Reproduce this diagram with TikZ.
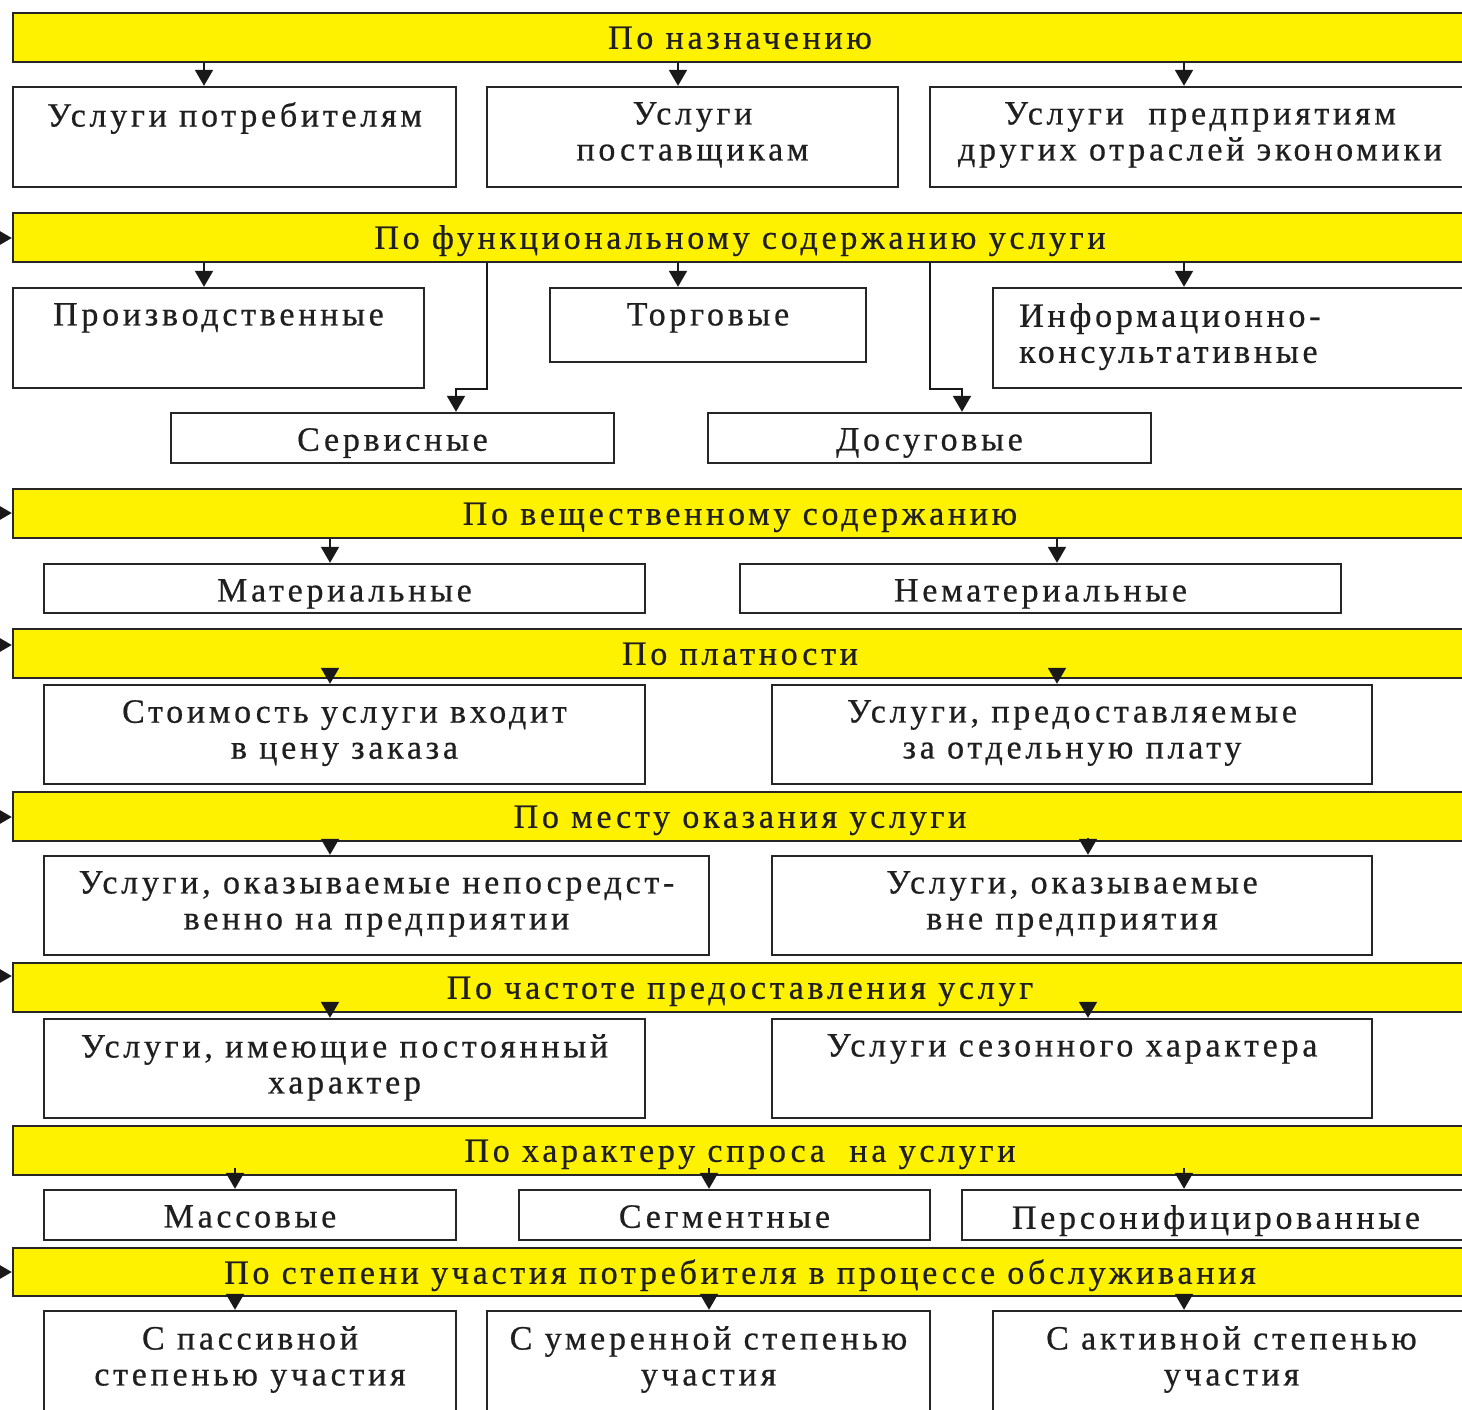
\documentclass[tikz,border=0pt]{standalone}
\usepackage{fontspec}
\setmainfont{Liberation Serif}[LetterSpace=11,FakeBold=0.6]
\usetikzlibrary{arrows.meta}
\newcommand\mkbox[6]{\node[#2, minimum width={(#5-#3)*0.5pt}, minimum height={(#6-#4)*0.5pt}] (#1) at ({(#3+#5)/2},{(#4+#6)/2}) {};}
\tikzset{
  bar/.style={draw=black!85, fill=yellow, line width=1.2pt, inner sep=0pt},
  box/.style={draw=black!85, fill=white, line width=1.2pt, inner sep=0pt},
  lbl/.style={font=\fontsize{17pt}{18pt}\selectfont, text=black!88, inner sep=0pt, align=center},
  bt/.style={lbl, anchor=base, yshift=-18.5pt},
  tt/.style={lbl, anchor=north, yshift=-8pt},
  ln/.style={line width=1pt, draw=black!90},
  arr/.style={ln, -{Triangle[length=8pt,width=9pt]}},
}
\begin{document}
\begin{tikzpicture}[x=0.5pt,y=-0.5pt]
\useasboundingbox (0,0) rectangle (1462,1409);
\fill[white] (0,0) rectangle (1462,1409);
\clip (0,0) rectangle (1462,1409);

% x-position helpers
\foreach \xx in {204,235,330,456,487,678,709,930,962,1057,1088,1184}{\coordinate (x\xx) at (\xx,0);}

% ---------- bars ----------
\mkbox{bar1}{bar}{13}{13}{1467}{62}
\mkbox{bar2}{bar}{13}{213}{1467}{262}
\mkbox{bar3}{bar}{13}{489}{1467}{538}
\mkbox{bar4}{bar}{13}{629}{1467}{678}
\mkbox{bar5}{bar}{13}{792}{1467}{841}
\mkbox{bar6}{bar}{13}{963}{1467}{1012}
\mkbox{bar7}{bar}{13}{1126}{1467}{1175}
\mkbox{bar8}{bar}{13}{1248}{1467}{1296}
\node[bt] (bar1t) at (bar1.north) {По назначению};
\node[bt] (bar2t) at (bar2.north) {По функциональному содержанию услуги};
\node[bt] (bar3t) at (bar3.north) {По вещественному содержанию};
\node[bt] (bar4t) at (bar4.north) {По платности};
\node[bt] (bar5t) at (bar5.north) {По месту оказания услуги};
\node[bt] (bar6t) at (bar6.north) {По частоте предоставления услуг};
\node[bt] (bar7t) at (bar7.north) {По характеру спроса \ на услуги};
\node[bt] (bar8t) at (bar8.north) {По степени участия потребителя в процессе обслуживания};

% ---------- boxes ----------
\mkbox{b11}{box}{13}{87}{456}{187}
\mkbox{b12}{box}{487}{87}{898}{187}
\mkbox{b13}{box}{930}{87}{1470}{187}
\node[tt] (b11t) at (b11.north) {Услуги потребителям};
\node[tt] (b12t) at (b12.north) {Услуги\\поставщикам};
\node[tt] (b13t) at (b13.north) {Услуги \ предприятиям\\других отраслей экономики};

\mkbox{b21}{box}{13}{288}{424}{388}
\mkbox{b22}{box}{550}{288}{866}{362}
\mkbox{b23}{box}{993}{288}{1470}{388}
\node[tt] (b21t) at (b21.north) {Производственные};
\node[tt] (b22t) at (b22.north) {Торговые};
\node[lbl, anchor=north west, align=left, xshift=13.5pt, yshift=-8pt] (b23t) at (b23.north west) {Информационно-\\консультативные};

\mkbox{b24}{box}{171}{413}{614}{463}
\mkbox{b25}{box}{708}{413}{1151}{463}
\node[tt] (b24t) at (b24.north) {Сервисные};
\node[tt] (b25t) at (b25.north) {Досуговые};

\mkbox{b31}{box}{44}{564}{645}{613}
\mkbox{b32}{box}{740}{564}{1341}{613}
\node[tt] (b31t) at (b31.north) {Материальные};
\node[tt] (b32t) at (b32.north) {Нематериальные};

\mkbox{b41}{box}{44}{685}{645}{784}
\mkbox{b42}{box}{772}{685}{1372}{784}
\node[tt] (b41t) at (b41.north) {Стоимость услуги входит\\в цену заказа};
\node[tt] (b42t) at (b42.north) {Услуги, предоставляемые\\за отдельную плату};

\mkbox{b51}{box}{44}{856}{709}{955}
\mkbox{b52}{box}{772}{856}{1372}{955}
\node[tt] (b51t) at (b51.north) {Услуги, оказываемые непосредст-\\венно на предприятии};
\node[tt] (b52t) at (b52.north) {Услуги, оказываемые\\вне предприятия};

\mkbox{b61}{box}{44}{1019}{645}{1118}
\mkbox{b62}{box}{772}{1019}{1372}{1118}
\node[tt] (b61t) at (b61.north) {Услуги, имеющие постоянный\\характер};
\node[tt] (b62t) at (b62.north) {Услуги сезонного характера};

\mkbox{b71}{box}{44}{1190}{456}{1240}
\mkbox{b72}{box}{519}{1190}{930}{1240}
\mkbox{b73}{box}{962}{1190}{1470}{1240}
\node[tt] (b71t) at (b71.north) {Массовые};
\node[tt] (b72t) at (b72.north) {Сегментные};
\node[tt] (b73t) at (b73.north) {Персонифицированные};

\mkbox{b81}{box}{44}{1311}{456}{1420}
\mkbox{b82}{box}{487}{1311}{930}{1420}
\mkbox{b83}{box}{993}{1311}{1470}{1420}
\node[tt] (b81t) at (b81.north) {С пассивной\\степенью участия};
\node[tt] (b82t) at (b82.north) {С умеренной степенью\\участия};
\node[tt] (b83t) at (b83.north) {С активной степенью\\участия};

% ---------- connectors ----------
\draw[arr] (x204 |- bar1.south) -- (x204 |- b11.north);
\draw[arr] (x678 |- bar1.south) -- (x678 |- b12.north);
\draw[arr] (x1184 |- bar1.south) -- (x1184 |- b13.north);

\draw[arr] (x204 |- bar2.south) -- (x204 |- b21.north);
\draw[arr] (x678 |- bar2.south) -- (x678 |- b22.north);
\draw[arr] (x1184 |- bar2.south) -- (x1184 |- b23.north);
\draw[arr] (x487 |- bar2.south) -- (x487 |- b21.south) -- (x456 |- b21.south) -- (x456 |- b24.north);
\draw[arr] (x930 |- bar2.south) -- (x930 |- b21.south) -- (x962 |- b21.south) -- (x962 |- b25.north);

\draw[arr] (x330 |- bar3.south) -- (x330 |- b31.north);
\draw[arr] (x1057 |- bar3.south) -- (x1057 |- b32.north);

\draw[arr] ([yshift=4pt]x330 |- bar4.south) -- (x330 |- b41.north);
\draw[arr] ([yshift=4pt]x1057 |- bar4.south) -- (x1057 |- b42.north);

\draw[arr] (x330 |- bar5.south) -- (x330 |- b51.north);
\draw[arr] ([yshift=2pt]x1088 |- bar5.south) -- (x1088 |- b52.north);

\draw[arr] ([yshift=4pt]x330 |- bar6.south) -- (x330 |- b61.north);
\draw[arr] ([yshift=4pt]x1088 |- bar6.south) -- (x1088 |- b62.north);

\draw[arr] ([yshift=4pt]x235 |- bar7.south) -- (x235 |- b71.north);
\draw[arr] ([yshift=4pt]x709 |- bar7.south) -- (x709 |- b72.north);
\draw[arr] ([yshift=4pt]x1184 |- bar7.south) -- (x1184 |- b73.north);

\draw[arr] (x235 |- bar8.south) -- (x235 |- b81.north);
\draw[arr] (x709 |- bar8.south) -- (x709 |- b82.north);
\draw[arr] (x1184 |- bar8.south) -- (x1184 |- b83.north);

% incoming arrows from the left edge
\coordinate (l2) at (-40,238);
\coordinate (l3) at (-40,513);
\coordinate (l4) at (-40,645);
\coordinate (l5) at (-40,817);
\coordinate (l6) at (-40,976);
\coordinate (l8) at (-40,1272);
\draw[arr] (l2) -- (l2 -| bar2.west);
\draw[arr] (l3) -- (l3 -| bar3.west);
\draw[arr] (l4) -- (l4 -| bar4.west);
\draw[arr] (l5) -- (l5 -| bar5.west);
\draw[arr] (l6) -- (l6 -| bar6.west);
\draw[arr] (l8) -- (l8 -| bar8.west);
\end{tikzpicture}
\end{document}
